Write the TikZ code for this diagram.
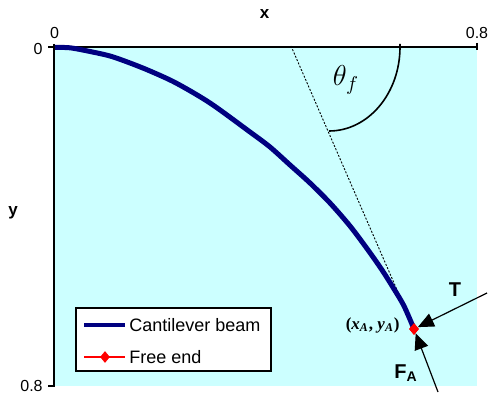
\documentclass[tikz,border=0pt]{standalone}
\usepackage{fontspec}
\setmainfont{Liberation Serif}
\setsansfont{Liberation Sans}
\usetikzlibrary{arrows.meta,shapes.geometric}
\definecolor{beamblue}{RGB}{0,0,128}
\definecolor{plotcyan}{RGB}{204,255,255}
\tikzset{
  axisline/.style={line width=1pt},
  beamline/.style={draw=beamblue, line width=2.5pt, line join=round},
  freeend/.style={diamond, fill=red, inner sep=0pt, minimum width=5pt, minimum height=6pt},
  force/.style={line width=0.6pt, -{Triangle[length=8pt,width=7pt]}},
  ticklabel/.style={font=\sffamily\fontsize{8}{9}\selectfont},
  axislabel/.style={font=\sffamily\bfseries\fontsize{8.5}{10}\selectfont},
  loadlabel/.style={font=\sffamily\bfseries\fontsize{10}{12}\selectfont},
  legendtext/.style={font=\sffamily\fontsize{9}{10}\selectfont, anchor=west}
}
\begin{document}
\begin{tikzpicture}[x=0.5pt, y=-0.5pt, every node/.style={inner sep=1pt}]
\useasboundingbox (0,0) rectangle (491,400);
\fill[plotcyan] (55,47) rectangle (477,386);
% axes
\draw[axisline] (48,47) -- (477,47);
\draw[axisline] (477,43) -- (477,50);
\draw[axisline] (54,44) -- (54,386) -- (48,386);
\node[ticklabel] (xzero) at (54.5,32.5) {0};
\node[ticklabel] (xmax) at (477,33) {0.8};
\node[ticklabel] (yzero) at (38,49) {0};
\node[ticklabel, anchor=east] (ymax) at (45,386) {0.8};
\node[axislabel] (xlab) at (264.5,14) {x};
\node[axislabel] (ylab) at (13,213) {y};
% tangent and angle
\node[freeend] (A) at (414,329) {};
\coordinate (tantop) at (291,46);
\draw[dash pattern=on 1pt off 0.8pt, line width=0.45pt] (tantop) -- (A.center);
\draw[line width=0.8pt] (400,44) -- (400,47) arc[start angle=0, end angle=-90, x radius=35.5pt, y radius=42pt];
\node[font=\fontsize{14}{16}\selectfont] (theta) at (346,80) {$\theta_{f}$};
% beam
\draw[beamline] plot[smooth, tension=0.5] coordinates {(55,47.5) (70,47.8) (90,51.5) (110,56) (130,63) (150,71) (176,83) (210,103) (250,132) (270,147) (290,165) (310,183) (330,203) (350,226) (368,250) (382,270) (394,289) (404,306) (414,329)};
\node[freeend] at (A) {};
% loads
\coordinate (tstart) at (487,293);
\coordinate (fstart) at (438,392);
\draw[force] (tstart) -- (A);
\draw[force] (fstart) -- (A);
\node[loadlabel] (tlab) at (455,290) {T};
\node[loadlabel] (flab) at (406,373) {F\textsubscript{A}};
\node[font=\bfseries\fontsize{8.5}{10}\selectfont, anchor=east] (alab) at (402,325) {(\textit{x}\textsubscript{\textit{A}}, \textit{y}\textsubscript{\textit{A}})};
% legend
\draw[line width=1pt, fill=white] (76,308) rectangle (271,371);
\draw[draw=beamblue, line width=2pt] (84,325) -- (125,325);
\draw[red, line width=1pt] (84,357) -- (125,357);
\node[freeend] (legdiamond) at (105,357) {};
\node[legendtext] (legbeam) at (127,325) {Cantilever beam};
\node[legendtext] (legfree) at (127,357) {Free end};
\end{tikzpicture}
\end{document}
